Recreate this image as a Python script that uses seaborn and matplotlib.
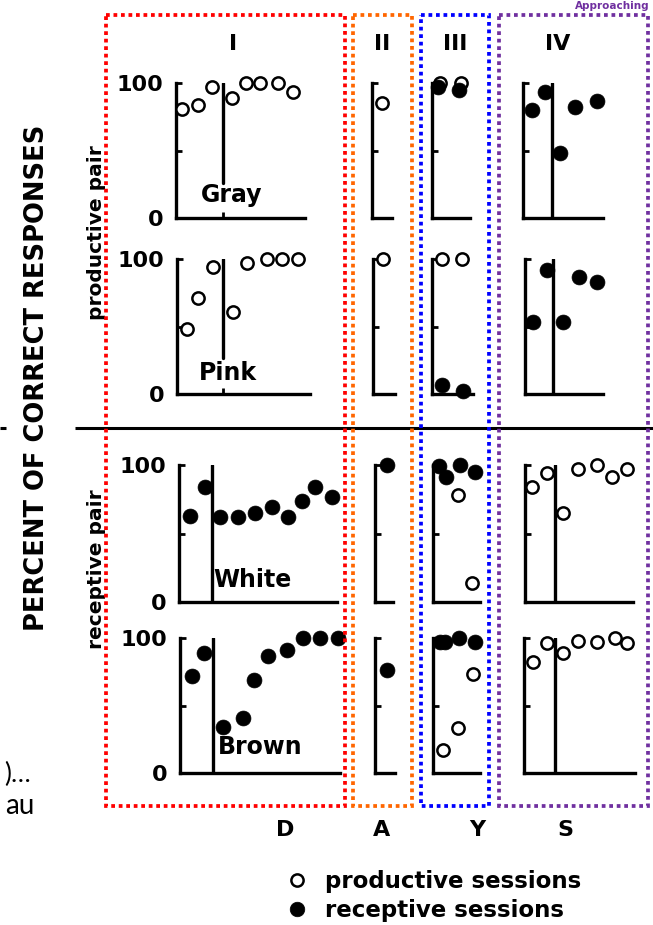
import matplotlib
matplotlib.use("Agg")
import matplotlib.pyplot as plt
from matplotlib.lines import Line2D
from matplotlib.patches import Rectangle
import seaborn as sns

W, H = 653, 925

# ---------------- data (percent correct per session) ----------------
rows = ["Gray", "Pink", "White", "Brown"]
conditions = ["D", "A", "Y", "S"]
phase_titles = ["I", "II", "III", "IV"]
legend_labels = ["productive sessions", "receptive sessions"]

# Gray (productive pair)
gray_D_open_x = [1, 2, 2.9, 4.15, 5, 5.9, 7.05, 8]
gray_D_open_y = [81, 84, 97, 89, 100, 100, 100, 93]
gray_A_open_x = [1]
gray_A_open_y = [85]
gray_Y_open_x = [1.05, 2.05]
gray_Y_open_y = [100, 100]
gray_Y_filled_x = [0.95, 1.95]
gray_Y_filled_y = [97, 95]
gray_S_filled_x = [1, 1.84, 2.8, 3.77, 5.2]
gray_S_filled_y = [80, 93, 48, 82, 87]

# Pink (productive pair)
pink_D_open_x = [1, 1.7, 2.65, 3.9, 4.75, 6, 7, 8]
pink_D_open_y = [48, 71, 94, 61, 97, 100, 100, 100]
pink_A_open_x = [1]
pink_A_open_y = [100]
pink_Y_open_x = [1, 2]
pink_Y_open_y = [100, 100]
pink_Y_filled_x = [1, 2.05]
pink_Y_filled_y = [7, 2]
pink_S_filled_x = [1, 1.9, 2.94, 3.97, 5.13]
pink_S_filled_y = [53, 92, 53, 87, 83]

# White (receptive pair)
white_D_filled_x = [1, 1.95, 2.9, 4.05, 5.1, 6.2, 7.2, 8.1, 8.9, 10]
white_D_filled_y = [63, 84, 62, 62, 65, 69, 62, 74, 84, 77]
white_A_filled_x = [1]
white_A_filled_y = [100]
white_Y_open_x = [2, 2.95]
white_Y_open_y = [78, 14]
white_Y_filled_x = [0.7, 1.2, 2.1, 3.1]
white_Y_filled_y = [99, 91, 100, 95]
white_S_open_x = [1, 1.97, 3, 3.97, 5.19, 6.16, 7.13]
white_S_open_y = [84, 94, 65, 97, 100, 91, 97]

# Brown (receptive pair)
brown_D_filled_x = [1, 1.75, 2.9, 4.15, 4.8, 5.7, 6.85, 7.85, 8.9, 10]
brown_D_filled_y = [72, 89, 34, 41, 69, 87, 91, 100, 100, 100]
brown_A_filled_x = [1]
brown_A_filled_y = [76]
brown_Y_open_x = [1, 2, 3]
brown_Y_open_y = [17, 33, 73]
brown_Y_filled_x = [0.8, 1.15, 2.05, 3.1]
brown_Y_filled_y = [97, 97, 100, 97]
brown_S_open_x = [1, 1.9, 2.94, 3.9, 5.13, 6.29, 7.06]
brown_S_open_y = [82, 96, 89, 98, 97, 100, 96]

# session after which the condition changed (vertical line), per panel
phase_D = {"Gray": 3.58, "Pink": 3.26, "White": 2.39, "Brown": 2.3}
phase_S = {"Gray": 2.29, "Pink": 2.29, "White": 2.48, "Brown": 2.42}

panel_data = {
    ("Gray", "D"): (gray_D_open_x, gray_D_open_y, [], []),
    ("Gray", "A"): (gray_A_open_x, gray_A_open_y, [], []),
    ("Gray", "Y"): (gray_Y_open_x, gray_Y_open_y, gray_Y_filled_x, gray_Y_filled_y),
    ("Gray", "S"): ([], [], gray_S_filled_x, gray_S_filled_y),
    ("Pink", "D"): (pink_D_open_x, pink_D_open_y, [], []),
    ("Pink", "A"): (pink_A_open_x, pink_A_open_y, [], []),
    ("Pink", "Y"): (pink_Y_open_x, pink_Y_open_y, pink_Y_filled_x, pink_Y_filled_y),
    ("Pink", "S"): ([], [], pink_S_filled_x, pink_S_filled_y),
    ("White", "D"): ([], [], white_D_filled_x, white_D_filled_y),
    ("White", "A"): ([], [], white_A_filled_x, white_A_filled_y),
    ("White", "Y"): (white_Y_open_x, white_Y_open_y, white_Y_filled_x, white_Y_filled_y),
    ("White", "S"): (white_S_open_x, white_S_open_y, [], []),
    ("Brown", "D"): ([], [], brown_D_filled_x, brown_D_filled_y),
    ("Brown", "A"): ([], [], brown_A_filled_x, brown_A_filled_y),
    ("Brown", "Y"): (brown_Y_open_x, brown_Y_open_y, brown_Y_filled_x, brown_Y_filled_y),
    ("Brown", "S"): (brown_S_open_x, brown_S_open_y, [], []),
}

# ---------------- layout (pixels) ----------------
row_y = {"Gray": (83, 218), "Pink": (259, 394), "White": (465, 602), "Brown": (638, 773)}
# left spine px, right end px, px of session 1, px per session
panel_layout = {
    ("Gray", "D"): (176, 305, 182, 15.9), ("Gray", "A"): (372, 392, 382, 15.5),
    ("Gray", "Y"): (432, 470, 439, 21), ("Gray", "S"): (523, 603, 532, 15.5),
    ("Pink", "D"): (177, 310, 187, 15.9), ("Pink", "A"): (373, 395, 383, 15.5),
    ("Pink", "Y"): (432, 473, 442, 20), ("Pink", "S"): (525, 603, 533, 15.5),
    ("White", "D"): (179, 337, 190, 15.8), ("White", "A"): (375, 393, 387, 15.5),
    ("White", "Y"): (433, 480, 443, 15), ("White", "S"): (525, 633, 532, 15.5),
    ("Brown", "D"): (180, 340, 192, 16.2), ("Brown", "A"): (375, 395, 387, 15.5),
    ("Brown", "Y"): (433, 480, 443, 15), ("Brown", "S"): (524, 635, 533, 15.5),
}
partial_phase = {"Gray": 0.26, "Pink": 0.27}

sns.set_theme(style="white")
plt.rcParams["font.family"] = ["DejaVu Sans"]
for key in ["text.color", "axes.labelcolor", "xtick.color", "ytick.color", "axes.edgecolor"]:
    plt.rcParams[key] = "black"

fig = plt.figure(figsize=(W / 100, H / 100), dpi=100)
fig.patch.set_facecolor("white")

LW = 2.4
for r in rows:
    ytop, ybot = row_y[r]
    for c in conditions:
        left, right, x1, step = panel_layout[(r, c)]
        ax = fig.add_axes([left / W, 1 - ybot / H, (right - left) / W, (ybot - ytop) / H])
        ax.patch.set_alpha(0)
        ax.set_xlim(1 + (left - x1) / step, 1 + (right - x1) / step)
        ax.set_ylim(0, 100)
        for s in ["top", "right"]:
            ax.spines[s].set_visible(False)
        for s in ["left", "bottom"]:
            ax.spines[s].set_linewidth(LW)
            ax.spines[s].set_color("black")
        ax.set_yticks([0, 50, 100])
        if c == "D":
            ax.set_yticklabels(["0", "", "100"], fontsize=16, fontweight="bold")
        else:
            ax.set_yticklabels(["", "", ""])
        ax.tick_params(axis="y", direction="in", length=4.5, width=2, pad=9,
                       colors="black", left=True)
        phase = phase_D[r] if c == "D" else (phase_S[r] if c == "S" else None)
        if phase is not None:
            ax.set_xticks([phase])
            ax.axvline(phase, ymin=partial_phase.get(r, 0) if c == "D" else 0,
                       ymax=1.0, color="black", lw=LW)
        else:
            ax.set_xticks([])
        ax.set_xticklabels([])
        ax.tick_params(axis="x", direction="in", length=4, width=2, bottom=True)
        ax.grid(False)

        ox, oy, fx, fy = panel_data[(r, c)]
        if ox:
            sns.scatterplot(x=ox, y=oy, ax=ax, s=78, color="white", edgecolor="black",
                            linewidth=1.8, clip_on=False, zorder=3, legend=False)
        if fx:
            sns.scatterplot(x=fx, y=fy, ax=ax, s=115, color="black", edgecolor="black",
                            linewidth=0.5, clip_on=False, zorder=4, legend=False)
        ax.set_xlabel("")
        ax.set_ylabel("")

# ---------------- overlay: annotations in pixel space ----------------
ov = fig.add_axes([0, 0, 1, 1])
ov.set_xlim(0, W)
ov.set_ylim(H, 0)
ov.axis("off")
ov.patch.set_alpha(0)

box_specs = [(106, 345, "#FF0000"), (353, 412, "#FF6600"),
             (421, 489, "#0000FF"), (499, 648, "#7030A0")]
for x0, x1b, col in box_specs:
    ov.add_patch(Rectangle((x0, 15), x1b - x0, 806 - 15, fill=False, edgecolor=col,
                           lw=2.7, linestyle=(0, (1, 1)), zorder=10))

ov.plot([75, 653], [428, 428], color="black", lw=2.2, solid_capstyle="butt")
ov.plot([0, 6], [428, 428], color="black", lw=2.2, solid_capstyle="butt")

# phase titles
for t, xp in zip(phase_titles, [233, 382, 455, 558]):
    ov.text(xp, 44, t, ha="center", va="center", fontsize=16, fontweight="heavy")

# condition letters
for t, xp in zip(conditions, [285, 382, 477, 565]):
    ov.text(xp, 830, t, ha="center", va="center", fontsize=16, fontweight="bold")

# colour labels
ov.text(232, 195, rows[0], ha="center", va="center", fontsize=17, fontweight="bold")
ov.text(228, 373, rows[1], ha="center", va="center", fontsize=17, fontweight="bold")
ov.text(213, 580, rows[2], ha="left", va="center", fontsize=17, fontweight="bold")
ov.text(218, 747, rows[3], ha="left", va="center", fontsize=17, fontweight="bold")

ov.text(37, 378, "PERCENT OF CORRECT RESPONSES", rotation=90, ha="center", va="center",
        fontsize=18.5, fontweight="bold")
ov.text(96, 233, "productive pair", rotation=90, ha="center", va="center",
        fontsize=14.5, fontweight="bold")
ov.text(96, 569, "receptive pair", rotation=90, ha="center", va="center",
        fontsize=14.5, fontweight="bold")

# slide fragments at the image edges
ov.text(650, 1, "Approaching", color="#7030A0", ha="right", va="top",
        fontsize=7.5, fontweight="bold")
ov.text(31, 774, ")\u2026", ha="right", va="center", fontsize=19, family=["Lato", "DejaVu Sans"])
ov.text(35, 806, "au", ha="right", va="center", fontsize=20, family=["Lato", "DejaVu Sans"])

handles = [Line2D([], [], marker="o", ls="none", mfc="white", mec="black", mew=1.8, ms=8.8),
           Line2D([], [], marker="o", ls="none", mfc="black", mec="black", mew=0.5, ms=10.5)]
fig.legend(handles, legend_labels, loc="upper left",
           bbox_to_anchor=(286 / W, 1 - 870 / H), frameon=False,
           prop={"weight": "bold", "size": 16.5}, handletextpad=0.7, labelspacing=0.28,
           handlelength=1.0, borderpad=0, borderaxespad=0)

fig.savefig("out.png", dpi=100, facecolor="white")
